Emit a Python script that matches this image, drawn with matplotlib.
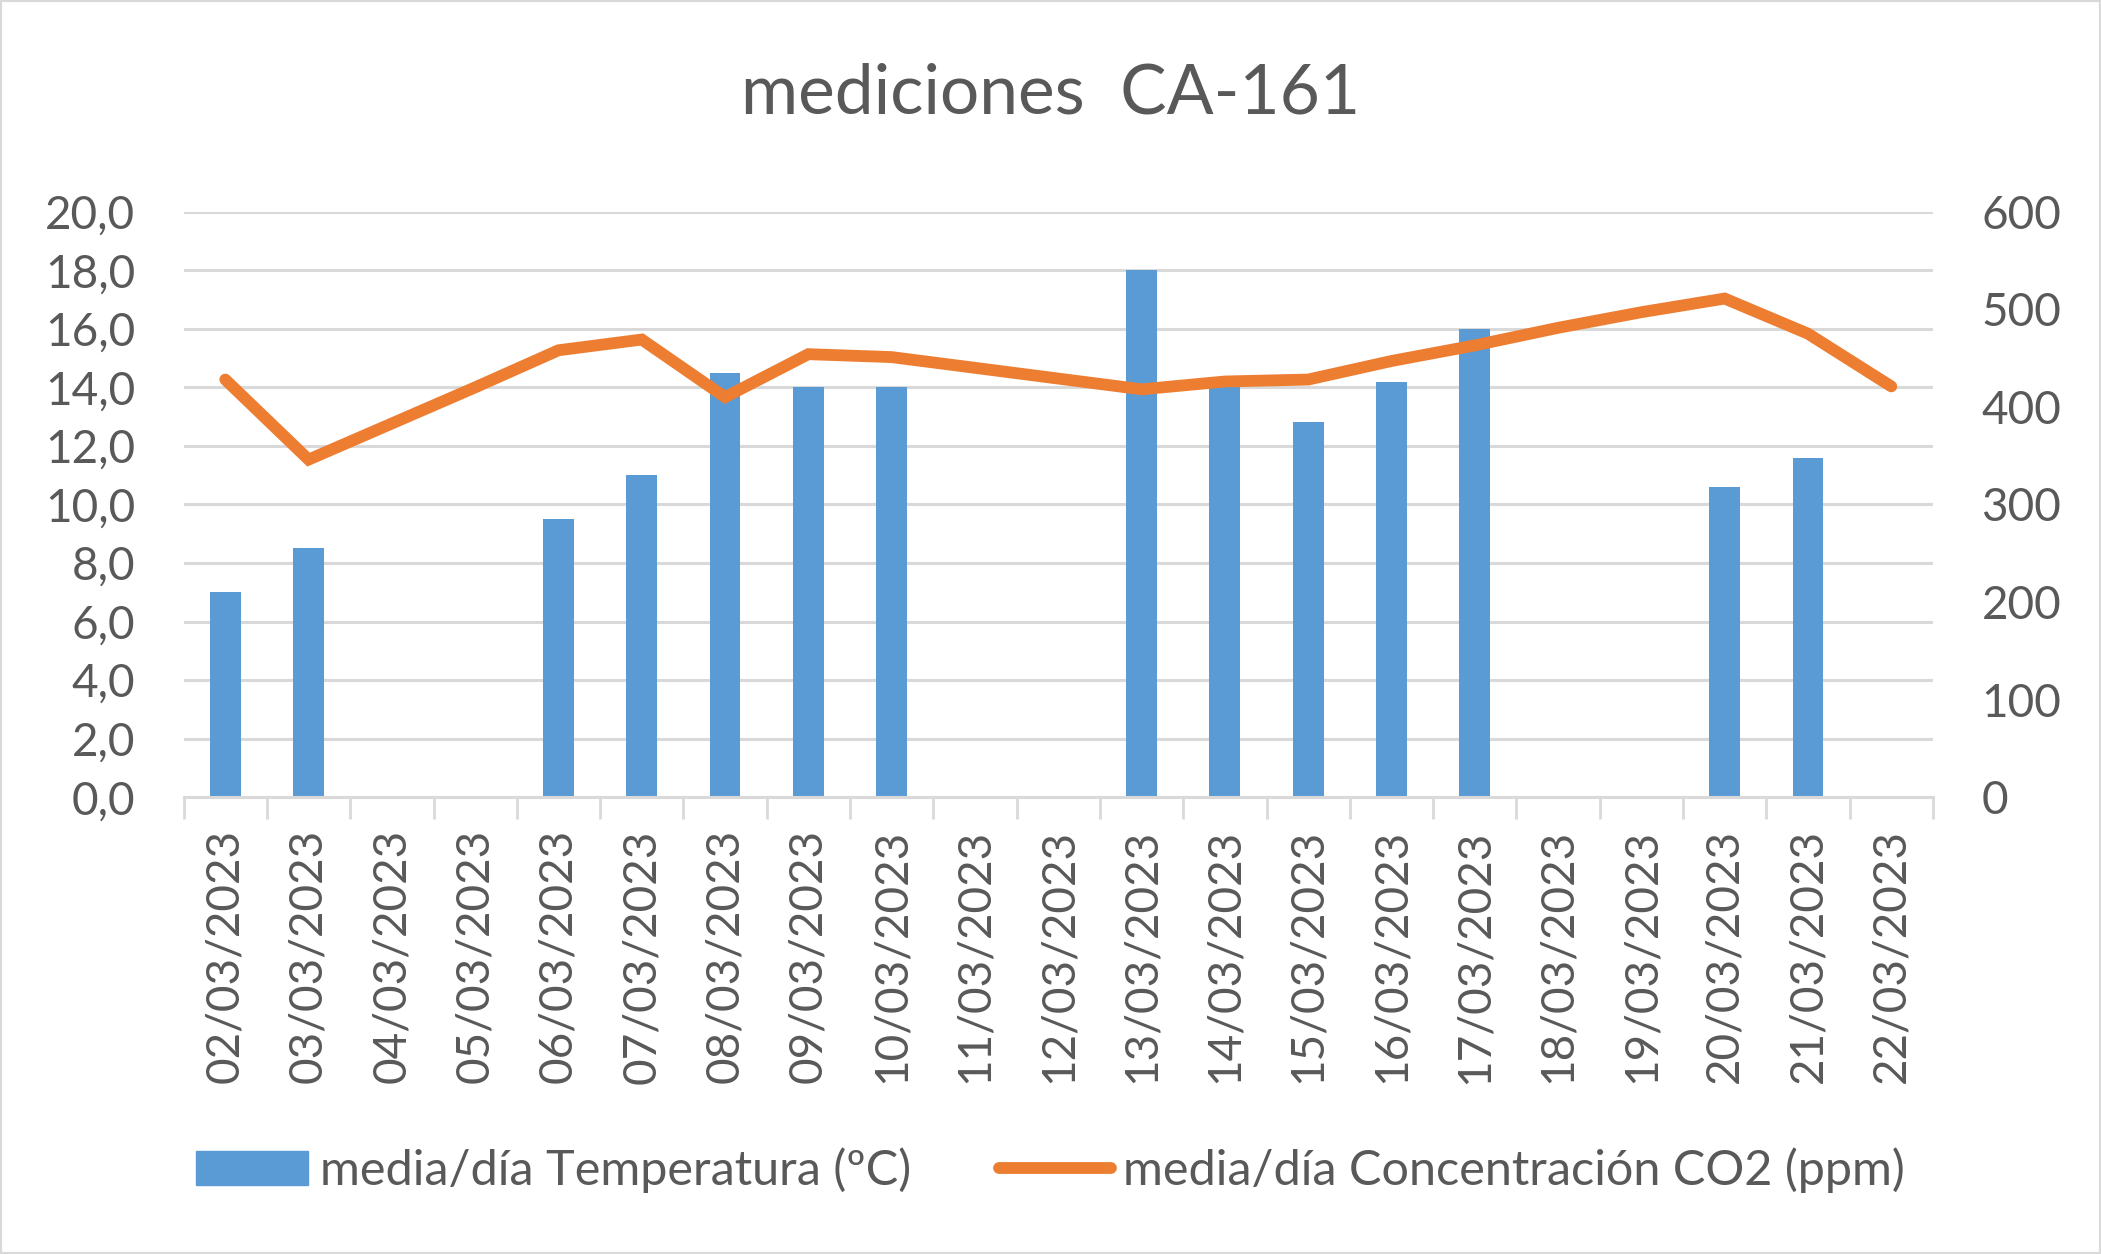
import numpy as np
import matplotlib.pyplot as plt
from matplotlib.patches import Rectangle
from matplotlib.lines import Line2D
from matplotlib.ticker import FuncFormatter

plt.rcParams['font.family'] = ['Lato', 'DejaVu Sans']

# fechas (una categoría por día)
fechas = ['02/03/2023', '03/03/2023', '04/03/2023', '05/03/2023', '06/03/2023',
          '07/03/2023', '08/03/2023', '09/03/2023', '10/03/2023', '11/03/2023',
          '12/03/2023', '13/03/2023', '14/03/2023', '15/03/2023', '16/03/2023',
          '17/03/2023', '18/03/2023', '19/03/2023', '20/03/2023', '21/03/2023',
          '22/03/2023']

# media/día Temperatura (ºC) - nan = sin dato
temperatura = [7.0, 8.5, np.nan, np.nan, 9.5, 11.0, 14.5, 14.0, 14.0, np.nan,
               np.nan, 18.0, 14.0, 12.8, 14.2, 16.0, np.nan, np.nan, 10.6, 11.6,
               np.nan]

# media/día Concentración CO2 (ppm)
co2 = [428, 346, 383, 420, 458, 469, 410, 454, 451, 440,
       429, 418, 426, 428, 447, 463, 481, 497, 511, 475,
       421]

azul = '#5B9BD5'
naranja = '#ED7D31'
gris = '#D9D9D9'
texto = '#595959'

fig = plt.figure(figsize=(21.01, 12.54), dpi=100)
ax = fig.add_axes([0.0874, 0.3642, 0.8326, 0.4670])

x = np.arange(len(fechas))
ax.bar(x, temperatura, width=0.37, color=azul, zorder=2)
ax.set_xlim(-0.5, len(fechas) - 0.5)
ax.set_ylim(0, 20)
ax.set_yticks(np.arange(0, 21, 2))
ax.yaxis.set_major_formatter(FuncFormatter(lambda v, p: f'{v:.1f}'.replace('.', ',')))
ax.yaxis.grid(True, color=gris, lw=2.2)
ax.set_axisbelow(True)

ax.set_xticks(x)
ax.set_xticklabels(fechas, rotation=90)
ax.set_xticks(np.arange(-0.5, len(fechas), 1), minor=True)
ax.tick_params(axis='x', which='major', length=0, pad=23, labelsize=33, labelcolor=texto)
ax.tick_params(axis='x', which='minor', length=16, width=2, color=gris)
ax.tick_params(axis='y', length=0, pad=35, labelsize=33, labelcolor=texto)

for s in ['top', 'left', 'right']:
    ax.spines[s].set_visible(False)
ax.spines['bottom'].set_color(gris)
ax.spines['bottom'].set_linewidth(2.2)

ax2 = ax.twinx()
ax2.plot(x, co2, color=naranja, lw=8.5, solid_capstyle='round', solid_joinstyle='miter', zorder=3)
ax2.set_ylim(0, 600)
ax2.set_yticks(np.arange(0, 601, 100))
ax2.tick_params(axis='y', length=0, pad=35, labelsize=33, labelcolor=texto)
for s in ax2.spines.values():
    s.set_visible(False)

fig.text(0.5, 1 - 94 / 1254, 'mediciones  CA-161', ha='center', va='center',
         fontsize=50, color=texto)

handles = [Rectangle((0, 0), 1, 1, color=azul),
           Line2D([0], [0], color=naranja, lw=8.5, solid_capstyle='round')]
fig.legend(handles, ['media/día Temperatura (ºC)', 'media/día Concentración CO2 (ppm)'],
           loc='center', bbox_to_anchor=(0.5, 1 - 1170 / 1254), ncol=2, frameon=False,
           fontsize=35, labelcolor=texto, handlelength=2.3, handletextpad=0.25,
           columnspacing=1.8)

# borde del gráfico
fig.patches.append(Rectangle((0, 0), 1, 1, transform=fig.transFigure, fill=False,
                             edgecolor=gris, lw=3))

fig.savefig('out.png', dpi=100)
